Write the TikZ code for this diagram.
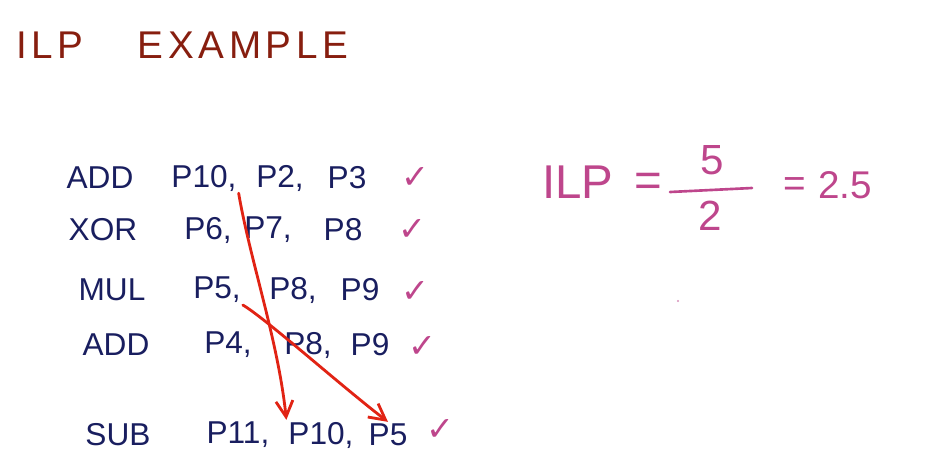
\documentclass[tikz,border=0pt]{standalone}
\usepackage{fontspec}
\setmainfont{Liberation Sans}
\newfontfamily\symfont{DejaVu Sans}
\usetikzlibrary{arrows.meta,positioning}
\definecolor{ilpbrown}{RGB}{135,30,15}
\definecolor{ilpink}{RGB}{25,30,95}
\definecolor{ilpmark}{RGB}{190,70,140}
\definecolor{ilpred}{RGB}{225,35,20}
\tikzset{
  ttl/.style={font=\fontsize{22}{26}\selectfont\addfontfeature{LetterSpace=12}, text=ilpbrown, inner sep=0pt},
  opc/.style={font=\fontsize{18}{22}\selectfont, text=ilpink, inner sep=1pt},
  reg/.style={opc},
  chk/.style={font=\symfont\fontsize{19}{22}\selectfont, text=ilpmark, inner sep=0pt},
  eqn/.style={font=\fontsize{27}{30}\selectfont, text=ilpmark, inner sep=0pt},
  dep/.style={-{Straight Barb[length=3.2mm,width=3.4mm]}, draw=ilpred, line width=1.6pt, line cap=round}
}
\begin{document}
\begin{tikzpicture}[x=0.02cm,y=-0.02cm]
  \useasboundingbox (0,0) rectangle (943,467);
  % title
  \node[ttl] (tilp) at (50,45) {ILP};
  \node[ttl] (tex) at (243,45) {EXAMPLE};
  % instructions
  \node[opc] (op1) at (100,178) {ADD};
  \node[reg] (r1a) at (204,178) {P10,};
  \node[reg] (r1b) at (280,178) {P2,};
  \node[reg] (r1c) at (347,178) {P3};
  \node[chk] (k1) at (415,178) {✓};
  \node[opc] (op2) at (103,230) {XOR};
  \node[reg] (r2a) at (208,230) {P6,};
  \node[reg] (r2b) at (268,230) {P7,};
  \node[reg] (r2c) at (343,230) {P8};
  \node[chk] (k2) at (412,230) {✓};
  \node[opc] (op3) at (112,290) {MUL};
  \node[reg] (r3a) at (217,290) {P5,};
  \node[reg] (r3b) at (293,290) {P8,};
  \node[reg] (r3c) at (360,290) {P9};
  \node[chk] (k3) at (415,292) {✓};
  \node[opc] (op4) at (116,345) {ADD};
  \node[reg] (r4a) at (228,345) {P4,};
  \node[reg] (r4b) at (308,345) {P8,};
  \node[reg] (r4c) at (370,345) {P9};
  \node[chk] (k4) at (422,347) {✓};
  \node[opc] (op5) at (118,435) {SUB};
  \node[reg] (r5a) at (238,435) {P11,};
  \node[reg] (r5b) at (321,435) {P10,};
  \node[reg] (r5c) at (388,435) {P5};
  \node[chk] (k5) at (440,430) {✓};
  % dependences
  \draw[dep] (r1a.south east) .. controls (250,260) and (278,340) .. (r5b.north west);
  \draw[dep] (r3a.south east) .. controls (265,318) and (340,385) .. (r5c.north);
  % ILP
  \node[eqn] (ilp) at (578,182) {ILP};
  \node[eqn] (eq1) at (648,185) {=};
  \node[eqn, font=\fontsize{24}{26}\selectfont] (num) at (712,160) {5};
  \node[eqn, font=\fontsize{24}{26}\selectfont] (den) at (710,216) {2};
  \draw[ilpmark, line width=1.5pt, line cap=round] (670,192) -- (752,188);
  \node[eqn, font=\fontsize{22}{26}\selectfont] (eq2) at (795,187) {=};
  \node[eqn, font=\fontsize{22}{26}\selectfont] (res) at (845,185) {2.5};
  \fill[ilpmark!60] (678,301) circle (1.2);
\end{tikzpicture}
\end{document}
